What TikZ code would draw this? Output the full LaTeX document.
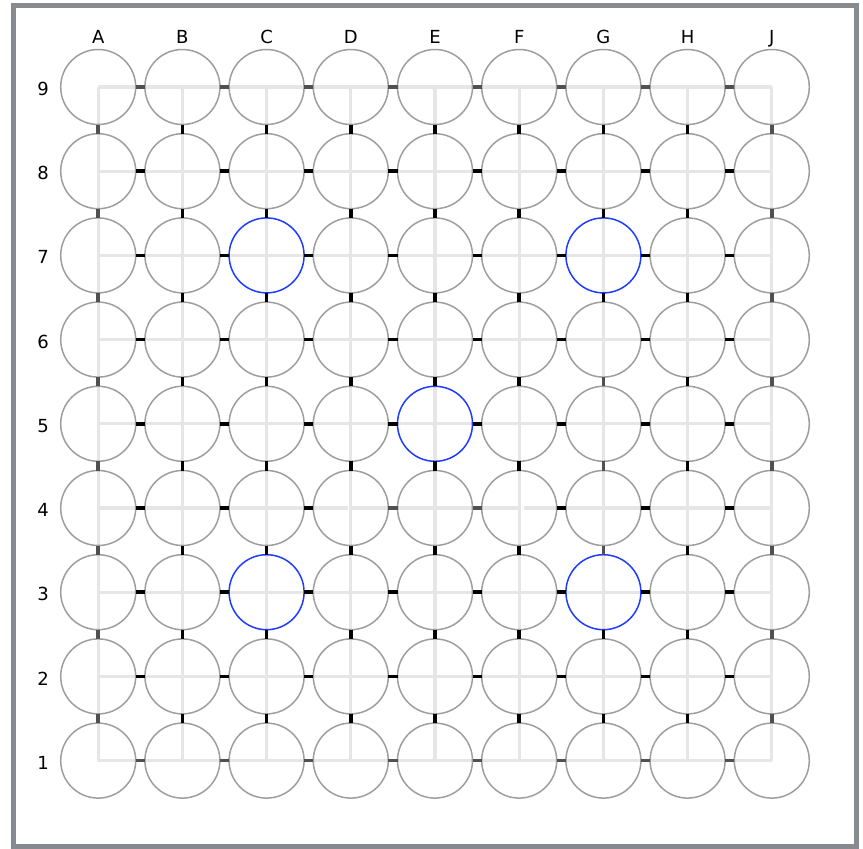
\documentclass[tikz,border=0pt]{standalone}
\usepackage{fontspec}
\setmainfont{DejaVu Sans}
\definecolor{gridc}{RGB}{230,230,230}
\definecolor{ringc}{RGB}{158,158,158}
\definecolor{blueR}{RGB}{30,60,255}
\definecolor{linkdark}{RGB}{0,0,0}
\definecolor{linkgray}{RGB}{80,80,80}
\definecolor{framec}{RGB}{135,138,143}
% special links / stones
\expandafter\def\csname hot-c7\endcsname{1}
\expandafter\def\csname hot-g7\endcsname{1}
\expandafter\def\csname hot-e5\endcsname{1}
\expandafter\def\csname hot-c3\endcsname{1}
\expandafter\def\csname hot-g3\endcsname{1}
\expandafter\def\csname grayh-d4\endcsname{1}
\expandafter\def\csname grayh-e4\endcsname{1}
\expandafter\def\csname grayv-g6\endcsname{1}
\expandafter\def\csname grayv-g5\endcsname{1}
\expandafter\def\csname grayv-g4\endcsname{1}
\tikzset{
  ring/.style={circle, draw=ringc, line width=1.5pt, minimum size=75pt, inner sep=0pt, outer sep=0pt},
  hot/.style={ring, draw=blueR},
  gridline/.style={draw=gridc, line width=3.2pt},
  link/.style={line width=3.6pt},
  lbl/.style={font=\fontsize{18}{21}\selectfont, text=black, inner sep=0pt},
  frame/.style={draw=framec, line width=5pt},
}
\begin{document}
\begin{tikzpicture}[x=1pt,y=-1pt]
\useasboundingbox (0,0) rectangle (863,849);
\draw[frame] (13.5,5.5) rectangle (856,846.5);
% intersection points
\foreach \c [count=\i from 0] in {a,b,c,d,e,f,g,h,j} {
  \foreach \r in {1,...,9} {
    \coordinate (p\c\r) at ({98.2+84.2*\i},{87+84.2*(9-\r)});
  }
}
% grid lines
\foreach \c in {a,b,c,d,e,f,g,h,j} {
  \draw[gridline] (p\c9) -- (p\c1);
}
\foreach \r in {1,2,3,5,6,7,8,9} {
  \draw[gridline] (pa\r) -- (pj\r);
}
\draw[gridline] (pa4) -- ([xshift=-3pt]pd4);
\draw[gridline] (pd4) -- (pf4);
\draw[gridline] ([xshift=5pt]pf4) -- (pj4);
% stones
\foreach \c in {a,b,c,d,e,f,g,h,j} {
  \foreach \r in {1,...,9} {
    \ifcsname hot-\c\r\endcsname \def\st{hot}\else \def\st{ring}\fi
    \node[\st] (\c\r) at (p\c\r) {};
  }
}
% horizontal links
\foreach \r in {1,...,9} {
  \foreach \c/\d in {a/b,b/c,c/d,d/e,e/f,f/g,g/h,h/j} {
    \def\lc{linkdark}
    \ifnum\r=1 \def\lc{linkgray}\fi
    \ifnum\r=9 \def\lc{linkgray}\fi
    \ifcsname grayh-\c\r\endcsname \def\lc{linkgray}\fi
    \draw[link, draw=\lc] (\c\r.east) -- (\d\r.west);
  }
}
% vertical links
\foreach \c/\cl in {a/linkgray,b/linkdark,c/linkdark,d/linkdark,e/linkdark,f/linkdark,g/linkdark,h/linkdark,j/linkgray} {
  \foreach \r/\s in {9/8,8/7,7/6,6/5,5/4,4/3,3/2,2/1} {
    \def\lc{\cl}
    \ifcsname grayv-\c\r\endcsname \def\lc{linkgray}\fi
    \draw[link, draw=\lc] (\c\r.south) -- (\c\s.north);
  }
}
% column labels
\foreach \c/\L in {a/A,b/B,c/C,d/D,e/E,f/F,g/G,h/H,j/J} {
  \node[lbl, anchor=base] (col\c) at (p\c9 |- 0,43) {\L};
}
% row labels
\foreach \r in {1,...,9} {
  \node[lbl, anchor=center] (row\r) at ([yshift=-2pt]43,0 |- pa\r) {\r};
}
\end{tikzpicture}
\end{document}
